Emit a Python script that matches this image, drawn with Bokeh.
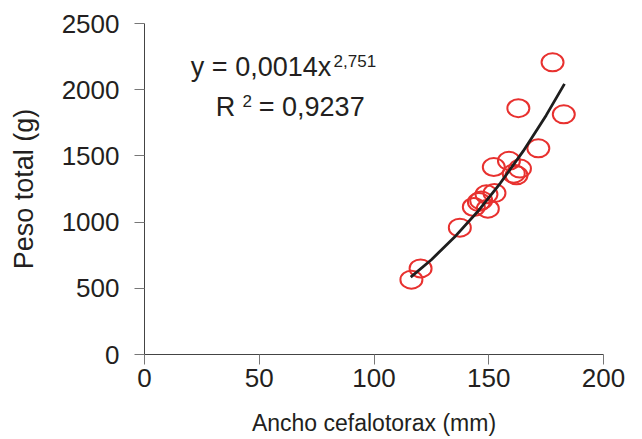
from bokeh.plotting import figure
from bokeh.models import Range1d, Label, FixedTicker, ColumnDataSource
from bokeh.embed import file_html
from bokeh.resources import INLINE

# Data
ancho = [177.8, 162.9, 182.7, 171.6, 158.8, 152.2, 163.6, 160.9, 162.1,
         152.5, 149.0, 146.7, 145.7, 143.5, 149.6, 137.4, 120.3, 116.3]
peso = [2207, 1860, 1814, 1557, 1463, 1416, 1404, 1366, 1353,
        1219, 1210, 1164, 1151, 1114, 1101, 958, 650, 565]

trend_x = [116, 125, 135, 145, 155, 165, 175, 183]
trend_y = [584, 716, 885, 1076, 1293, 1536, 1806, 2044]

x_ticks = [0, 50, 100, 150, 200]
y_ticks = [0, 500, 1000, 1500, 2000, 2500]

FONT = "Liberation Sans"
TXT = "#231f20"
RED = "#e8312f"

p = figure(width=642, height=439, output_backend="svg", toolbar_location=None,
           x_range=Range1d(0, 200), y_range=Range1d(0, 2500),
           min_border_left=144, min_border_right=39,
           min_border_top=23, min_border_bottom=85)
p.outline_line_color = None
p.grid.visible = False
p.background_fill_color = "white"
p.border_fill_color = "white"

p.xaxis.ticker = FixedTicker(ticks=x_ticks)
p.yaxis.ticker = FixedTicker(ticks=y_ticks)

for ax in (p.xaxis, p.yaxis):
    ax.axis_line_color = "#444444"
    ax.axis_line_width = 1
    ax.major_tick_line_color = "#777777"
    ax.major_tick_in = 0
    ax.major_tick_out = 10
    ax.minor_tick_line_color = None
    ax.major_label_text_font = FONT
    ax.major_label_text_font_size = "26px"
    ax.major_label_text_color = TXT
    ax.axis_label_text_font = FONT
    ax.axis_label_text_font_style = "normal"
    ax.axis_label_text_color = TXT

p.xaxis.axis_label = "Ancho cefalotorax (mm)"
p.xaxis.axis_label_text_font_size = "23px"
p.xaxis.major_label_standoff = 4
p.xaxis.axis_label_standoff = 20

p.yaxis.axis_label = "Peso total (g)"
p.yaxis.axis_label_text_font_size = "27px"
p.yaxis.major_label_standoff = 15
p.yaxis.axis_label_standoff = 20

src = ColumnDataSource(dict(x=ancho, y=peso))
p.ellipse(x="x", y="y", width=22, height=18, width_units="screen",
          height_units="screen", fill_color=None, line_color=RED,
          line_width=2, source=src)

p.line(trend_x, trend_y, line_color="#1e1e1e", line_width=2.8)

p.add_layout(Label(x=20.2, y=2058, text="y = 0,0014x", text_font=FONT,
                   text_font_size="27px", text_color=TXT))
p.add_layout(Label(x=82.4, y=2175, text="2,751", text_font=FONT,
                   text_font_size="17px", text_color=TXT))
p.add_layout(Label(x=31.1, y=1756, text="R", text_font=FONT,
                   text_font_size="27px", text_color=TXT))
p.add_layout(Label(x=42.7, y=1867, text="2", text_font=FONT,
                   text_font_size="17px", text_color=TXT))
p.add_layout(Label(x=49.8, y=1756, text="= 0,9237", text_font=FONT,
                   text_font_size="27px", text_color=TXT))

open("out.html", "w").write(file_html(p, INLINE))
